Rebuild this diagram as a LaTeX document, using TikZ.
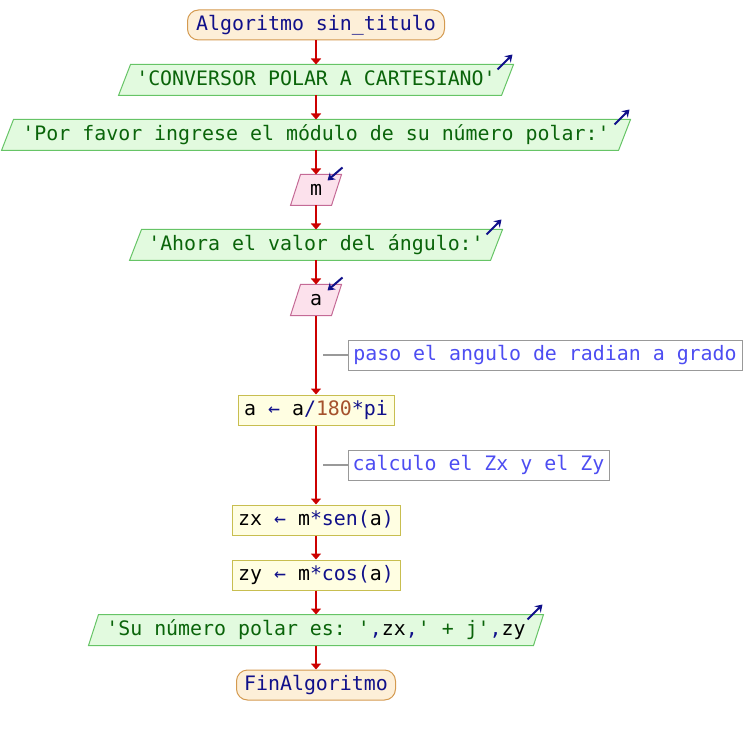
\documentclass[tikz,border=0pt]{standalone}
\usepackage{fontspec}
\setmonofont{DejaVu Sans Mono}
\usetikzlibrary{calc,arrows.meta,backgrounds}

\definecolor{flowred}{HTML}{CC0000}
\definecolor{navy}{HTML}{10108A}
\definecolor{termfill}{HTML}{FDEFD8}
\definecolor{termline}{HTML}{D49A50}
\definecolor{outfill}{HTML}{E2FADF}
\definecolor{outline}{HTML}{66C466}
\definecolor{outtext}{HTML}{0A640A}
\definecolor{infill}{HTML}{FCE1EC}
\definecolor{inline}{HTML}{C46A96}
\definecolor{asgfill}{HTML}{FFFEE2}
\definecolor{asgline}{HTML}{C8BE50}
\definecolor{notetext}{HTML}{4D4DF2}
\definecolor{noteline}{HTML}{999999}
\definecolor{numbrown}{HTML}{A5522D}

% coloured pieces of the pseudocode
\newcommand\kw[1]{\textcolor{navy}{#1}}
\newcommand\num[1]{\textcolor{numbrown}{#1}}
\newcommand\str[1]{\textcolor{outtext}{#1}}
\newcommand\var[1]{\textcolor{black}{#1}}

% slanted outline behind a text node: node name, half slant, style
\newcommand\slantbox[3]{%
  \begin{scope}[on background layer]
    \draw[#3] ($(#1.south west)+(-#2,0)$) -- ($(#1.north west)+(#2,0)$)
      -- ($(#1.north east)+(#2,0)$) -- ($(#1.south east)+(-#2,0)$) -- cycle;
  \end{scope}}
% small marks at the top right corner of input and output boxes
\newcommand\outmark[2]{%
  \draw[iomark] ($(#1.north east)+(#2,0)+(-16,5)$) -- ($(#1.north east)+(#2,0)+(-1,-10)$);}
\newcommand\inmark[2]{%
  \draw[iomark] ($(#1.north east)+(#2,0)+(1,-7)$) -- ($(#1.north east)+(#2,0)+(-14,6)$);}

\begin{document}
\begin{tikzpicture}[x=1pt,y=-1pt,
  base/.style={font=\ttfamily\fontsize{19.9pt}{24pt}\selectfont, inner sep=0pt,
    minimum height=30pt, text height=15pt, text depth=4pt, line width=1pt},
  terminal/.style={base, draw=termline, fill=termfill, text=navy, rounded corners=11pt},
  outbox/.style={base, text=outtext},
  outshape/.style={draw=outline, fill=outfill, line width=1pt},
  inbox/.style={base, text=black},
  inshape/.style={draw=inline, fill=infill, line width=1pt},
  assign/.style={base, draw=asgline, fill=asgfill, text=black},
  note/.style={base, draw=noteline, fill=white, text=notetext},
  flow/.style={draw=flowred, line width=2pt, -{Triangle[width=10pt,length=6pt]}},
  noteconn/.style={draw=noteline, line width=1.5pt},
  iomark/.style={draw=navy, line width=2pt, -{Stealth[width=9pt,length=7pt]}}]

\useasboundingbox (0,0) rectangle (752,735);

\node[terminal, minimum width=257pt] (start) at (316,25) {Algoritmo sin\_titulo};
\node[outbox, minimum width=382pt] (o1) at (316,80) {'CONVERSOR POLAR A CARTESIANO'};
\node[outbox, minimum width=616pt] (o2) at (316,135) {'Por favor ingrese el módulo de su número polar:'};
\node[inbox, minimum width=40pt] (m) at (316,190) {m};
\node[outbox, minimum width=360pt] (o3) at (316,245) {'Ahora el valor del ángulo:'};
\node[inbox, minimum width=40pt] (a) at (316,300) {a};
\node[note, minimum width=394pt] (c1) at (545,355) {paso el angulo de radian a grado};
\node[assign, minimum width=156pt] (as1) at (316,410)
  {\var{a} \kw{←} \var{a}\kw{/}\num{180}\kw{*pi}};
\node[note, minimum width=261pt] (c2) at (478.5,465) {calculo el Zx y el Zy};
\node[assign, minimum width=168pt] (zx) at (316,520)
  {\var{zx} \kw{←} \var{m}\kw{*sen(}\var{a}\kw{)}};
\node[assign, minimum width=168pt] (zy) at (316,575)
  {\var{zy} \kw{←} \var{m}\kw{*cos(}\var{a}\kw{)}};
\node[outbox, minimum width=444pt] (o4) at (316,630)
  {\str{'Su número polar es: '}\kw{,}\var{zx}\kw{,}\str{' + j'}\kw{,}\var{zy}};
\node[terminal, minimum width=159pt] (fin) at (316,685) {FinAlgoritmo};

\slantbox{o1}{6}{outshape}
\slantbox{o2}{6}{outshape}
\slantbox{m}{5}{inshape}
\slantbox{o3}{6}{outshape}
\slantbox{a}{5}{inshape}
\slantbox{o4}{5}{outshape}

\outmark{o1}{6}
\outmark{o2}{6}
\inmark{m}{5}
\outmark{o3}{6}
\inmark{a}{5}
\outmark{o4}{5}

\draw[flow] (start.south) -- (o1.north);
\draw[flow] (o1.south) -- (o2.north);
\draw[flow] (o2.south) -- (m.north);
\draw[flow] (m.south) -- (o3.north);
\draw[flow] (o3.south) -- (a.north);
\draw[flow] (a.south) -- (as1.north);
\draw[flow] (as1.south) -- (zx.north);
\draw[flow] (zx.south) -- (zy.north);
\draw[flow] (zy.south) -- (o4.north);
\draw[flow] (o4.south) -- (fin.north);

\coordinate (c1p) at (323,355);
\coordinate (c2p) at (323,465);
\draw[noteconn] (c1p) -- (c1.west);
\draw[noteconn] (c2p) -- (c2.west);
\end{tikzpicture}
\end{document}
